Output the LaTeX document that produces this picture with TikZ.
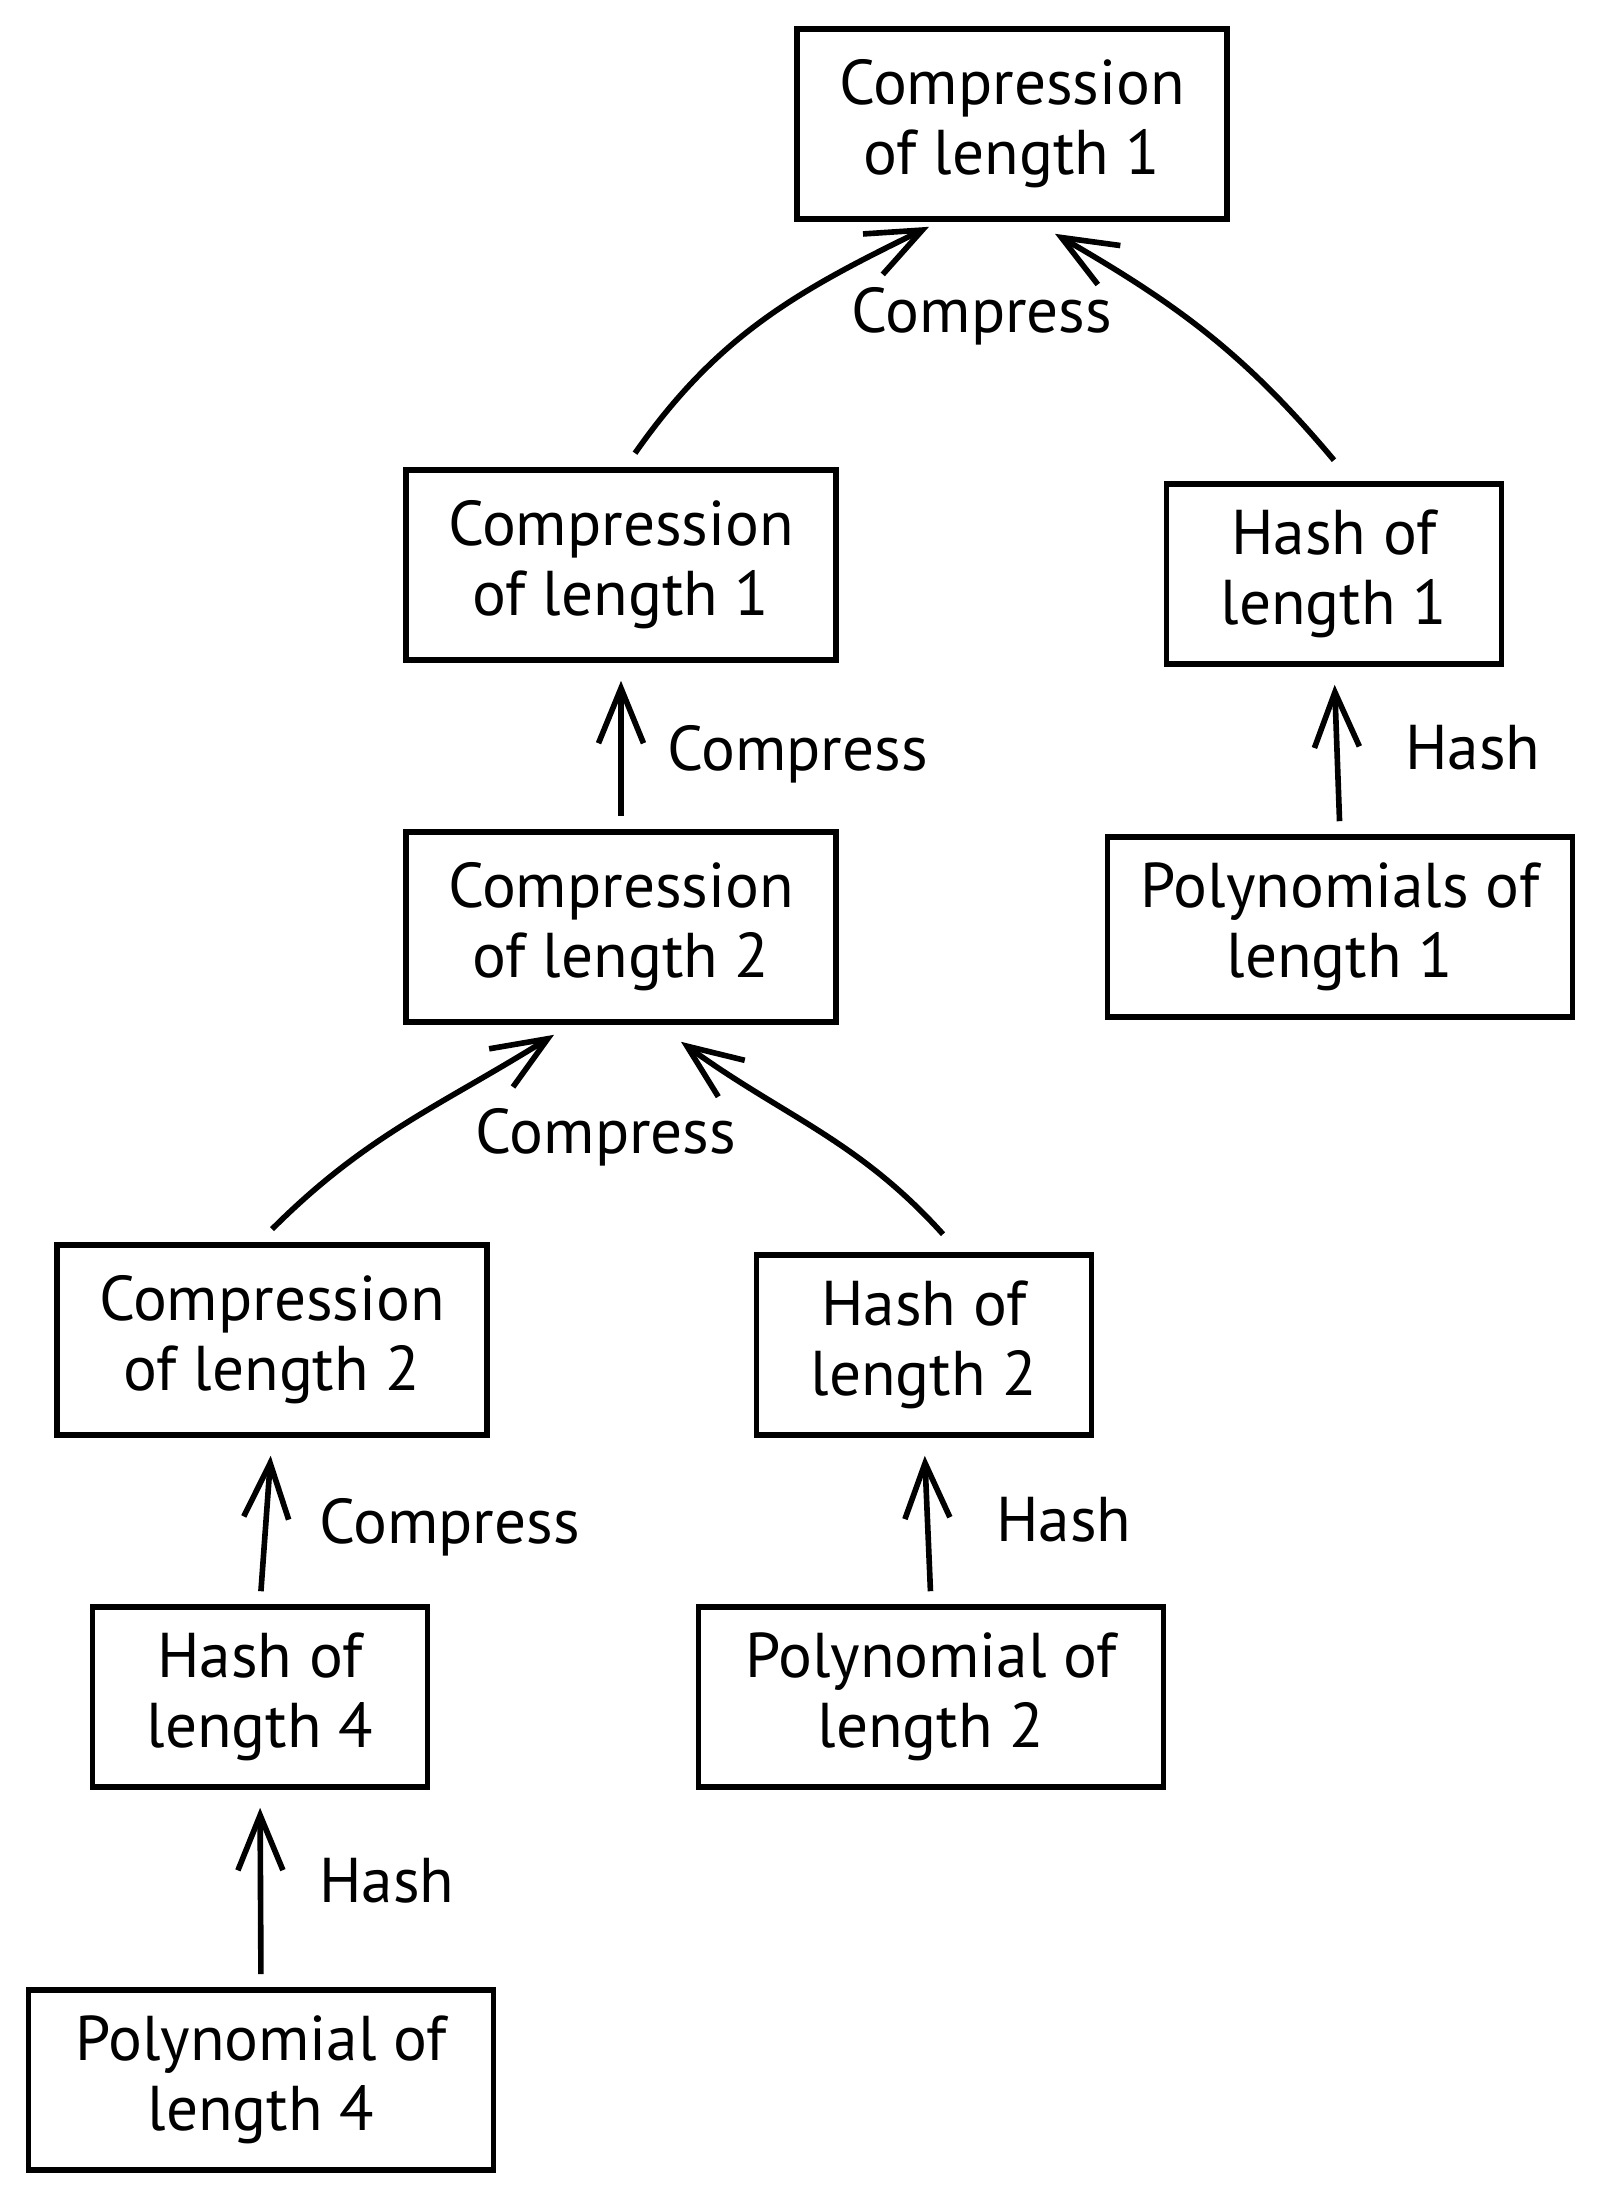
\documentclass[tikz,border=0pt]{standalone}
\usepackage{fontspec}
\setmainfont{PT Sans}
\usetikzlibrary{arrows.meta}
\begin{document}
\begin{tikzpicture}[every node/.style={font=\fontsize{18}{20}\selectfont},
  box/.style={draw,line width=1.6pt,align=center,minimum width=4.3cm,minimum height=1.9cm,inner sep=0pt},
  hbox/.style={box,minimum width=3.35cm,minimum height=1.8cm},
  pbox/.style={box,minimum width=4.65cm,minimum height=1.8cm},
  arr/.style={line width=1.6pt,-{Straight Barb[length=0.55cm,width=0.45cm,line width=1.6pt]}}]
\useasboundingbox (0,0) rectangle (16,-21.97);
\node[box] (top) at (10.12,-1.24) {Compression\\of length 1};
\node[box] (cmid) at (6.21,-5.65) {Compression\\of length 1};
\node[hbox] (h1) at (13.34,-5.74) {Hash of\\length 1};
\node[box] (c2) at (6.21,-9.27) {Compression\\of length 2};
\node[pbox] (p1) at (13.40,-9.27) {Polynomials of\\length 1};
\node[box] (c2l) at (2.72,-13.40) {Compression\\of length 2};
\node[hbox] (h2) at (9.24,-13.45) {Hash of\\length 2};
\node[hbox] (h4) at (2.60,-16.97) {Hash of\\length 4};
\node[pbox] (p2) at (9.31,-16.97) {Polynomial of\\length 2};
\node[pbox] (p4) at (2.61,-20.80) {Polynomial of\\length 4};
\draw[arr] ([xshift=0.14cm,yshift=0.14cm]cmid.north) to[out=55,in=206] ([xshift=-0.83cm,yshift=-0.05cm]top.south);
\draw[arr] ([yshift=0.21cm]h1.north) to[out=130,in=-30] ([xshift=0.43cm,yshift=-0.12cm]top.south);
\draw[arr] ([yshift=0.13cm]c2l.north) to[out=45,in=212] ([xshift=-0.67cm,yshift=-0.10cm]c2.south);
\draw[arr] ([xshift=0.19cm,yshift=0.18cm]h2.north) to[out=132,in=-36] ([xshift=0.6cm,yshift=-0.17cm]c2.south);
\foreach \a/\b in {c2/cmid,p1/h1,h4/c2l,p2/h2,p4/h4}
  \draw[arr,shorten <=0.13cm,shorten >=0.18cm] (\a.north) -- (\b.south);
\node (l1) at (9.82,-3.16) {Compress};
\node[anchor=west] (l2) at (6.55,-7.54) {Compress};
\node[anchor=west] (l3) at (13.93,-7.48) {Hash};
\node (l4) at (6.06,-11.37) {Compress};
\node[anchor=west] (l5) at (3.07,-15.27) {Compress};
\node[anchor=west] (l6) at (9.84,-15.20) {Hash};
\node[anchor=west] (l7) at (3.07,-18.81) {Hash};
\end{tikzpicture}
\end{document}
